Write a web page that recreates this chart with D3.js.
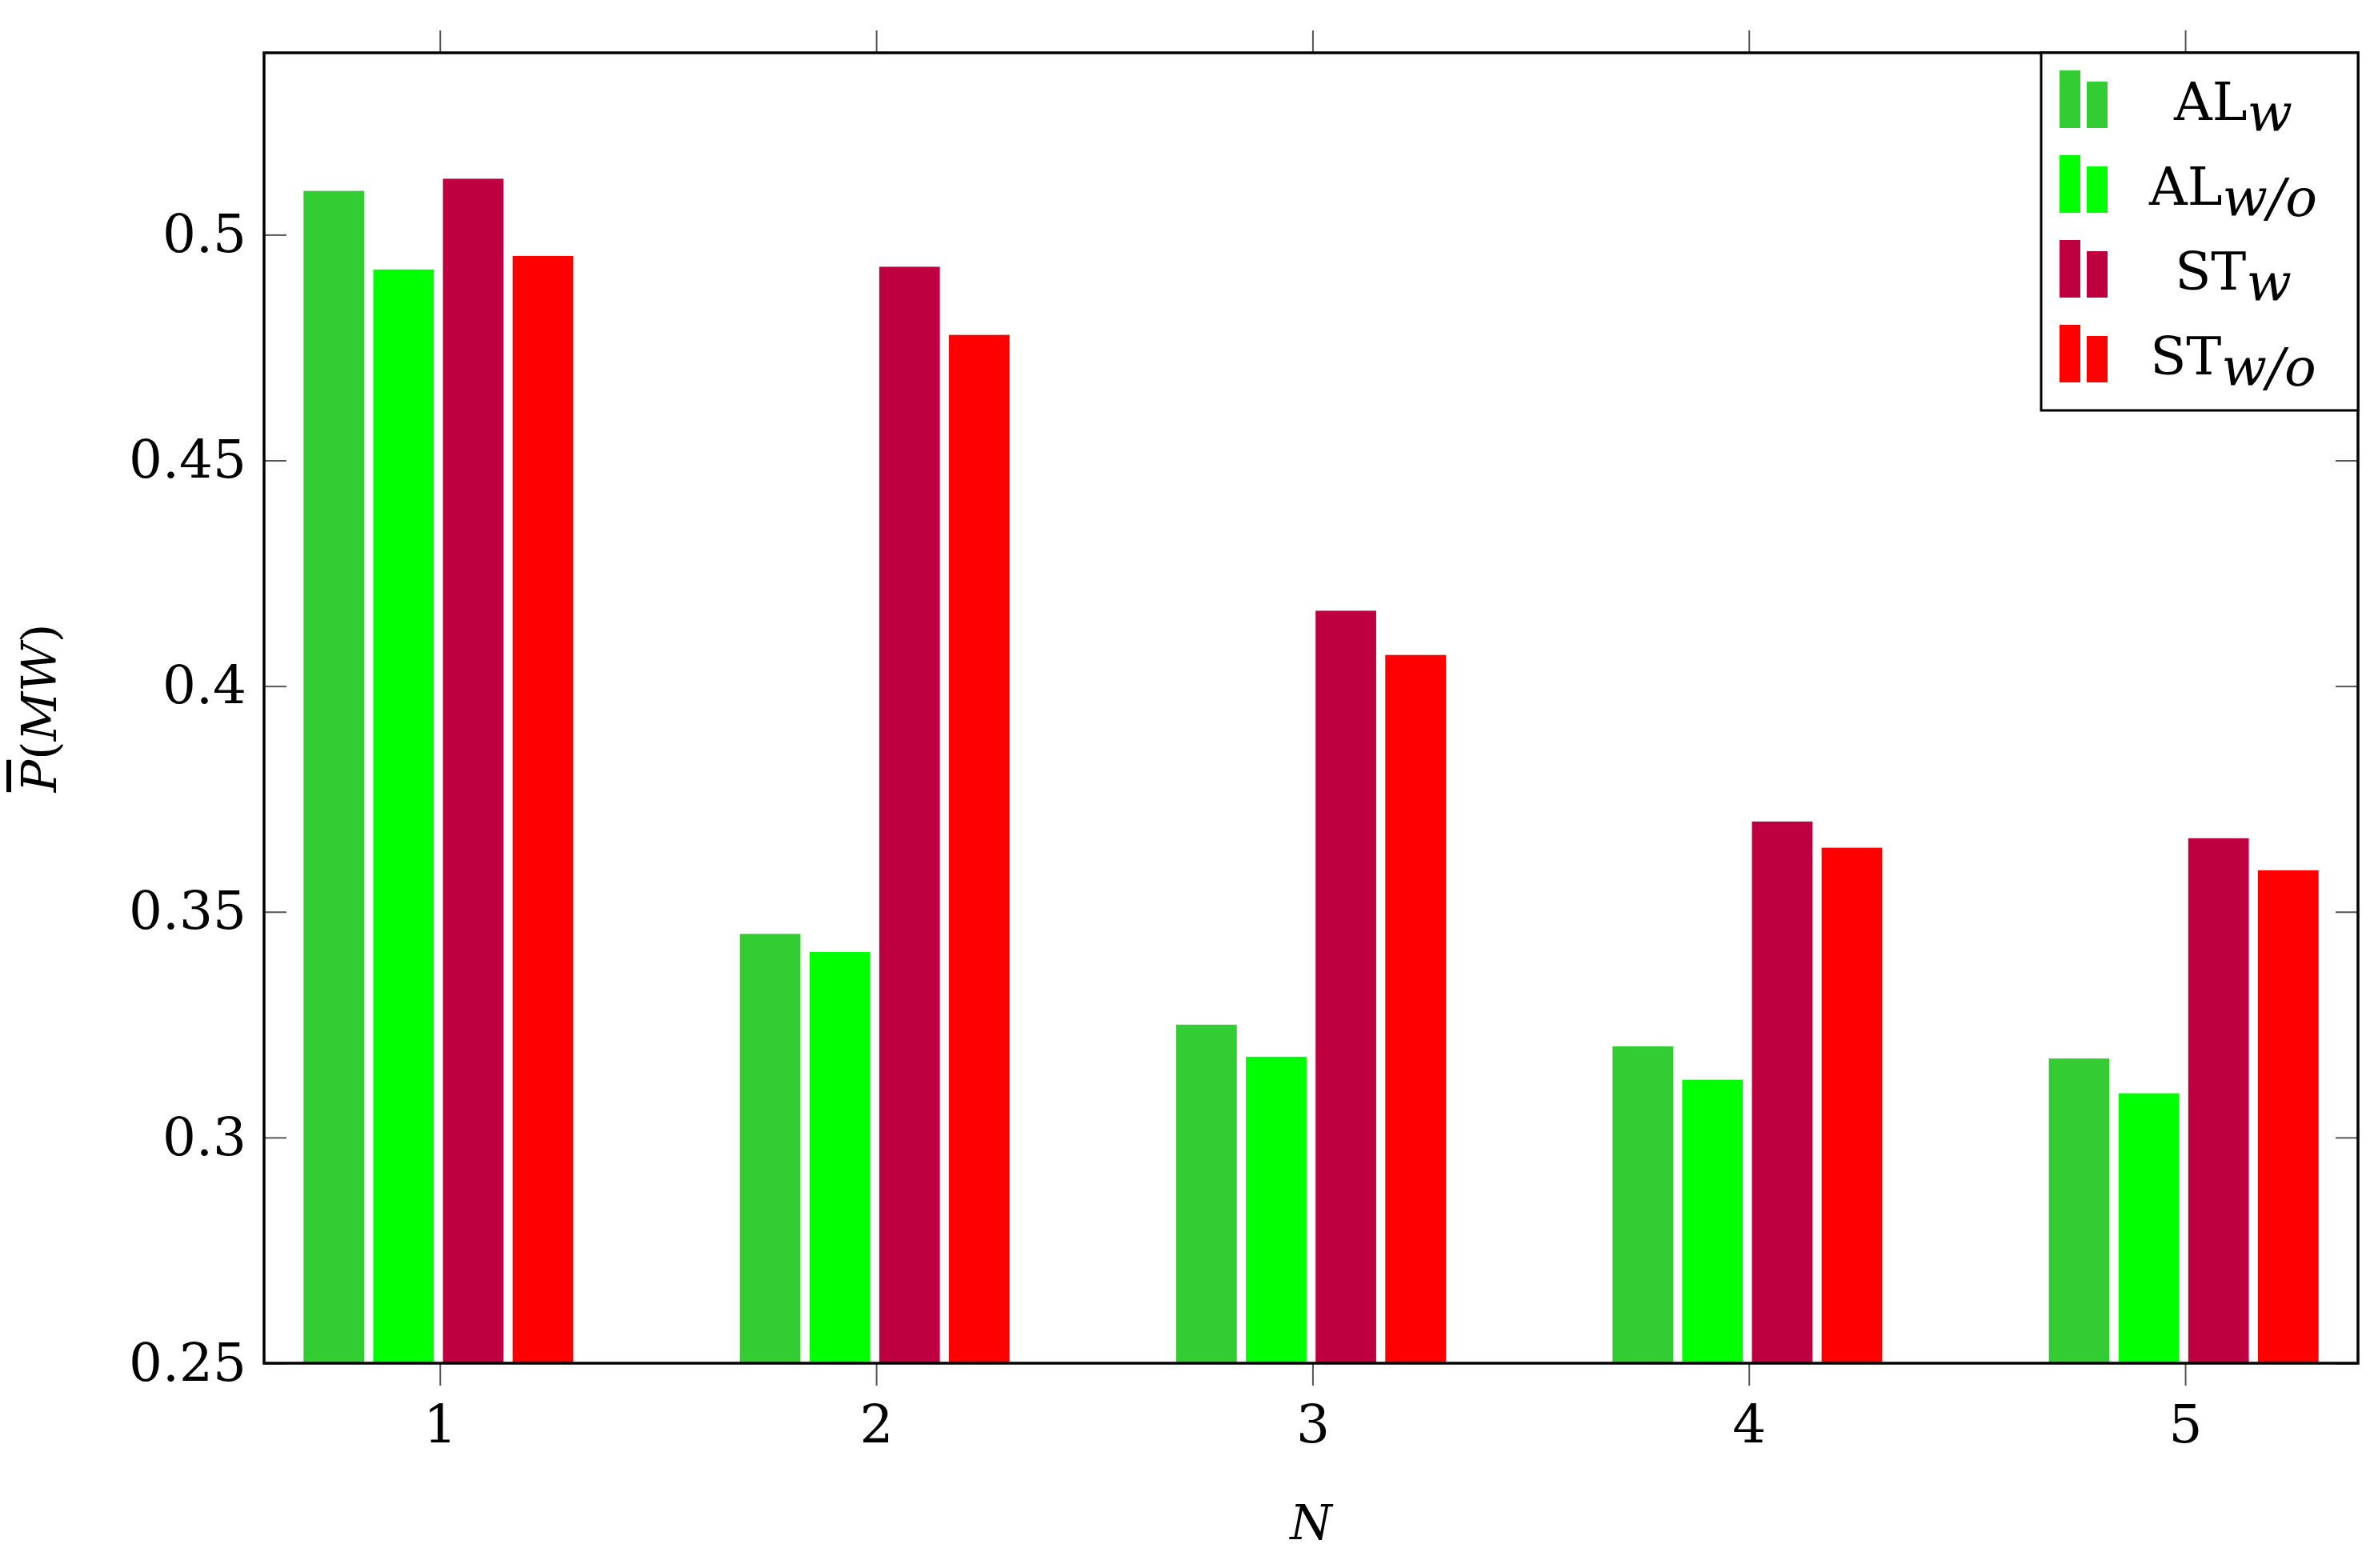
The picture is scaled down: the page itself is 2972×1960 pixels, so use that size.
<!DOCTYPE html>
<html><head><meta charset="utf-8">
<script src="https://cdn.jsdelivr.net/npm/d3@7"></script>
<style>body{margin:0;background:#fff}</style>
</head><body><div id="chart"></div>
<script>
// data
const categories = [1, 2, 3, 4, 5];
const seriesNames = ['ALw', 'ALwo', 'STw', 'STwo'];
const alW  = [0.5097, 0.3451, 0.3250, 0.3202, 0.3175];
const alWo = [0.4923, 0.3411, 0.3179, 0.3128, 0.3098];
const stW  = [0.5124, 0.4929, 0.4167, 0.3700, 0.3663];
const stWo = [0.4953, 0.4778, 0.4069, 0.3642, 0.3592];
const yTicks = [0.25, 0.3, 0.35, 0.4, 0.45, 0.5];

const COLORS = { ALw: '#33cc33', ALwo: '#00ff00', STw: '#bf0040', STwo: '#ff0000' };
const values = { ALw: alW, ALwo: alWo, STw: stW, STwo: stWo };
const FONT = '"DejaVu Serif", "Liberation Serif", serif';

const W = 2972, H = 1960;
const margin = { top: 66, right: 25, bottom: 256, left: 330 };
const iw = W - margin.left - margin.right, ih = H - margin.top - margin.bottom;

const svg = d3.select('#chart').append('svg').attr('width', W).attr('height', H);
const g = svg.append('g').attr('transform', `translate(${margin.left},${margin.top})`);

const x = d3.scaleLinear().domain([0.597, 5.396]).range([0, iw]);
const y = d3.scaleLinear().domain([0.25, 0.5403]).range([ih, 0]);
const unit = x(2) - x(1);
const barW = unit * 40 / 288, offsets = [-70, -24, 22, 68].map(d => d * unit / 288);

seriesNames.forEach((s, si) => {
  g.selectAll(null).data(categories).enter().append('rect')
    .attr('x', (c) => x(c) + offsets[si] - barW / 2)
    .attr('width', barW)
    .attr('y', (c, i) => y(values[s][i]))
    .attr('height', (c, i) => ih - y(values[s][i]))
    .attr('fill', COLORS[s]);
});

// axes
const tickLen = 28;
const xb = g.append('g').attr('transform', `translate(0,${ih})`)
  .call(d3.axisBottom(x).tickValues(categories).tickSize(tickLen).tickPadding(24).tickFormat(d3.format('d')));
const xt = g.append('g').call(d3.axisTop(x).tickValues(categories).tickSize(tickLen).tickFormat(''));
const yl = g.append('g').call(d3.axisLeft(y).tickValues(yTicks).tickSize(-tickLen).tickPadding(22).tickFormat(d => d3.format('')(d)));
const yr = g.append('g').attr('transform', `translate(${iw},0)`).call(d3.axisRight(y).tickValues(yTicks).tickSize(-tickLen).tickFormat(''));
[xb, xt, yl, yr].forEach(a => {
  a.select('.domain').remove();
  a.selectAll('line').attr('stroke', '#555').attr('stroke-width', 2);
  a.selectAll('text').attr('font-family', FONT).attr('font-size', 66).attr('fill', '#000');
});
g.append('rect').attr('width', iw).attr('height', ih).attr('fill', 'none').attr('stroke', '#000').attr('stroke-width', 3.5);

// labels
g.append('text').attr('x', iw / 2).attr('y', ih + 220).attr('text-anchor', 'middle')
  .attr('font-family', FONT).attr('font-style', 'italic').attr('font-size', 60).text('N');
const ylab = svg.append('text').attr('transform', `translate(70,${margin.top + ih / 2}) rotate(-90)`)
  .attr('text-anchor', 'middle').attr('font-family', FONT).attr('font-size', 60);
ylab.append('tspan').attr('font-style', 'italic').attr('text-decoration', 'overline').text('P');
ylab.append('tspan').text('(');
ylab.append('tspan').attr('font-style', 'italic').text('MW');
ylab.append('tspan').text(')');

// legend
const lg = g.append('g').attr('transform', `translate(${iw - 396},0)`);
lg.append('rect').attr('width', 396).attr('height', 447).attr('fill', '#fff').attr('stroke', '#000').attr('stroke-width', 3);
const legendLabels = [['AL', 'w'], ['AL', 'w/o'], ['ST', 'w'], ['ST', 'w/o']];
seriesNames.forEach((s, i) => {
  const cy = 62 + i * 106;
  const row = lg.append('g').attr('transform', `translate(0,${cy})`);
  row.append('rect').attr('x', 23).attr('y', -40).attr('width', 26).attr('height', 72).attr('fill', COLORS[s]);
  row.append('rect').attr('x', 57).attr('y', -26).attr('width', 26).attr('height', 58).attr('fill', COLORS[s]);
  const t = row.append('text').attr('x', 240).attr('y', 22).attr('text-anchor', 'middle')
    .attr('font-family', FONT).attr('font-size', 66);
  t.append('tspan').text(legendLabels[i][0]);
  t.append('tspan').attr('font-style', 'italic').attr('dy', 14).text(legendLabels[i][1]);
});
</script></body></html>
